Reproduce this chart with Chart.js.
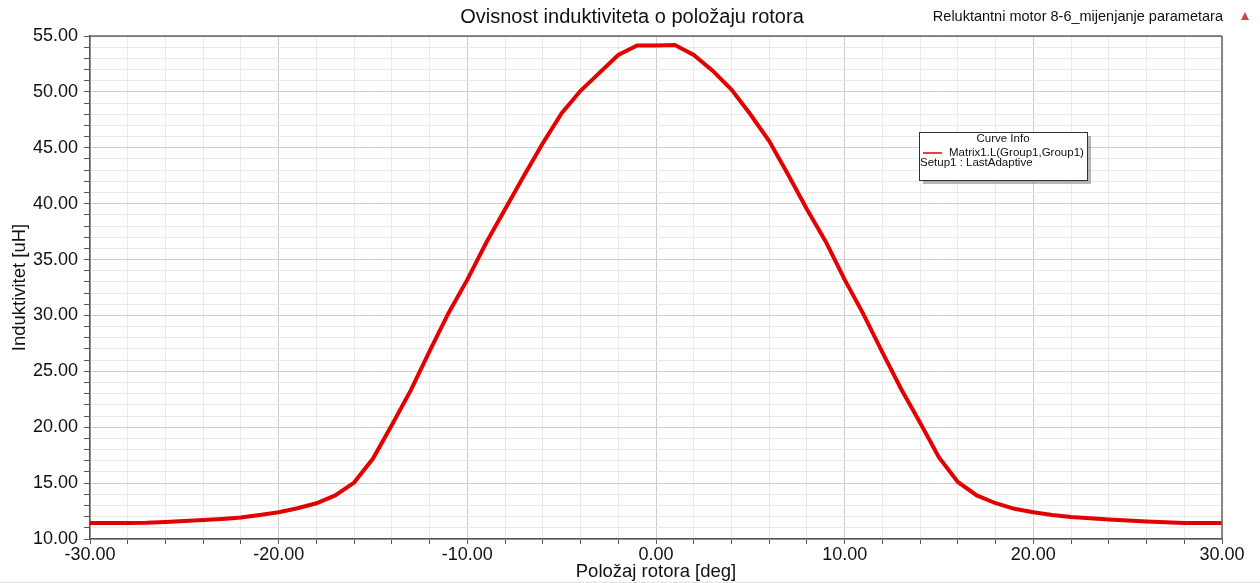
<!DOCTYPE html>
<html>
<head>
<meta charset="utf-8">
<title>Ovisnost induktiviteta o položaju rotora</title>
<script src="https://cdn.jsdelivr.net/npm/chart.js@4"></script>
<style>
    html, body { margin: 0; padding: 0; background: #fff; }
    #wrap { position: relative; width: 1260px; height: 583px; }
</style>
</head>
<body>
<div id="wrap"><canvas id="inductanceChart"></canvas></div>
<script>
/* ==========================================================================
   DATA
   ========================================================================== */
const rotorAngles = [
    -30, -29, -28, -27, -26, -25, -24, -23, -22, -21, -20,
    -19, -18, -17, -16, -15, -14, -13, -12, -11, -10,
    -9, -8, -7, -6, -5, -4, -3, -2, -1, 0,
    1, 2, 3, 4, 5, 6, 7, 8, 9, 10,
    11, 12, 13, 14, 15, 16, 17, 18, 19, 20,
    21, 22, 23, 24, 25, 26, 27, 28, 29, 30
];
const inductance = [
    11.43, 11.43, 11.43, 11.45, 11.52, 11.60, 11.70, 11.80, 11.92, 12.15, 12.40,
    12.75, 13.20, 13.90, 15.05, 17.20, 20.20, 23.30, 26.80, 30.20, 33.20,
    36.50, 39.50, 42.50, 45.40, 48.10, 50.10, 51.70, 53.30, 54.15, 54.15,
    54.20, 53.30, 51.90, 50.20, 48.00, 45.60, 42.60, 39.50, 36.60, 33.20,
    30.10, 26.70, 23.40, 20.40, 17.30, 15.10, 13.90, 13.20, 12.70, 12.40,
    12.15, 11.97, 11.85, 11.74, 11.65, 11.56, 11.50, 11.43, 11.43, 11.43
];
const xRange = [-30, 30];
const yRange = [10, 55];
const xLabelEvery = 10;
const yLabelEvery = 5;

const chartTitle = "Ovisnost induktiviteta o položaju rotora";
const projectName = "Reluktantni motor 8-6_mijenjanje parametara";
const xAxisTitle = "Položaj rotora [deg]";
const yAxisTitle = "Induktivitet [uH]";
const legendHeader = "Curve Info";
const legendLines = ["Matrix1.L(Group1,Group1)", "Setup1 : LastAdaptive"];

const FONT = "Arial, 'Liberation Sans', sans-serif";
const CURVE_RED = "#e30000";

/* ==========================================================================
   HELPERS
   ========================================================================== */
function isMultiple(value, step) {
    const r = value / step;
    return Math.abs(r - Math.round(r)) < 1e-6;
}

function gridColor(step) {
    return ctx => (ctx.tick && isMultiple(ctx.tick.value, step)) ? "#cdcdcd" : "#e9e9e9";
}

/* ==========================================================================
   DECORATION PLUGIN (frame, title, project label, curve info box)
   ========================================================================== */
const decorationPlugin = {
    id: "decorations",
    afterDraw(chart) {
        const { ctx, chartArea } = chart;
        const { left, right, top, bottom } = chartArea;
        ctx.save();

        // top + right frame
        ctx.strokeStyle = "#222";
        ctx.lineWidth = 1.2;
        ctx.beginPath();
        ctx.moveTo(left, top);
        ctx.lineTo(right, top);
        ctx.stroke();
        ctx.strokeStyle = "#666";
        ctx.lineWidth = 1.5;
        ctx.beginPath();
        ctx.moveTo(right, top);
        ctx.lineTo(right, bottom);
        ctx.stroke();

        // main title
        ctx.fillStyle = "#111";
        ctx.font = "20px " + FONT;
        ctx.textAlign = "center";
        ctx.textBaseline = "middle";
        ctx.fillText(chartTitle, (left + right) / 2 - 24, 17);

        // project label + little marker
        ctx.font = "14.5px " + FONT;
        ctx.textAlign = "right";
        ctx.fillText(projectName, right + 1, 17);
        ctx.fillStyle = "#c84a4a";
        ctx.beginPath();
        ctx.moveTo(1245, 12);
        ctx.lineTo(1249, 20);
        ctx.lineTo(1241, 20);
        ctx.closePath();
        ctx.fill();

        // curve info box
        const bx = 919, by = 132, bw = 168, bh = 48;
        ctx.fillStyle = "rgba(0,0,0,0.28)";
        ctx.fillRect(bx + 4, by + 4, bw, bh);
        ctx.fillStyle = "#fff";
        ctx.fillRect(bx, by, bw, bh);
        ctx.strokeStyle = "#333";
        ctx.lineWidth = 1;
        ctx.strokeRect(bx + 0.5, by + 0.5, bw, bh);

        ctx.fillStyle = "#111";
        ctx.font = "11.5px " + FONT;
        ctx.textAlign = "center";
        ctx.fillText(legendHeader, bx + bw / 2, by + 7);
        ctx.textAlign = "left";
        ctx.fillText(legendLines[0], bx + 30, by + 21);
        ctx.fillText(legendLines[1], bx + 1, by + 31);
        ctx.strokeStyle = CURVE_RED;
        ctx.lineWidth = 1.5;
        ctx.beginPath();
        ctx.moveTo(bx + 4, by + 21);
        ctx.lineTo(bx + 23, by + 21);
        ctx.stroke();

        // faint screenshot edge at the very bottom
        ctx.strokeStyle = "#e4e4e4";
        ctx.beginPath();
        ctx.moveTo(0, 582.5);
        ctx.lineTo(1260, 582.5);
        ctx.stroke();

        ctx.restore();
    }
};

/* ==========================================================================
   CHART
   ========================================================================== */
const points = rotorAngles.map((a, i) => ({ x: a, y: inductance[i] }));

new Chart(document.getElementById("inductanceChart").getContext("2d"), {
    type: "line",
    data: {
        datasets: [{
            label: legendLines[0],
            data: points,
            borderColor: CURVE_RED,
            borderWidth: 4,
            pointRadius: 0,
            tension: 0,
            fill: false
        }]
    },
    options: {
        responsive: true,
        maintainAspectRatio: false,
        animation: false,
        layout: { padding: { top: 36, right: 38, left: 0, bottom: 0 } },
        plugins: {
            legend: { display: false },
            title: { display: false },
            tooltip: { enabled: false }
        },
        scales: {
            x: {
                type: "linear",
                min: xRange[0],
                max: xRange[1],
                afterFit: scale => { scale.height = 44; },
                ticks: {
                    stepSize: 2,
                    autoSkip: false,
                    maxRotation: 0,
                    padding: 0,
                    color: "#111",
                    font: { family: FONT, size: 18 },
                    callback: v => isMultiple(v, xLabelEvery) ? v.toFixed(2) : ""
                },
                grid: {
                    color: gridColor(xLabelEvery),
                    tickColor: "#555",
                    tickLength: 5
                },
                border: { color: "#555", width: 1.5 },
                title: {
                    display: true,
                    text: xAxisTitle,
                    color: "#111",
                    font: { family: FONT, size: 18.5, lineHeight: 1 },
                    padding: { top: 0, bottom: 2 }
                }
            },
            y: {
                min: yRange[0],
                max: yRange[1],
                afterFit: scale => { scale.width = 90; },
                ticks: {
                    stepSize: 1,
                    autoSkip: false,
                    padding: 6,
                    color: "#111",
                    font: { family: FONT, size: 18 },
                    callback: v => isMultiple(v, yLabelEvery) ? v.toFixed(2) : ""
                },
                grid: {
                    color: gridColor(yLabelEvery),
                    tickColor: "#555",
                    tickLength: 6
                },
                border: { color: "#555", width: 1.5 },
                title: {
                    display: true,
                    text: yAxisTitle,
                    color: "#111",
                    font: { family: FONT, size: 18.5, lineHeight: 1 },
                    padding: { top: 11, bottom: 0 }
                }
            }
        }
    },
    plugins: [decorationPlugin]
});
</script>
</body>
</html>
